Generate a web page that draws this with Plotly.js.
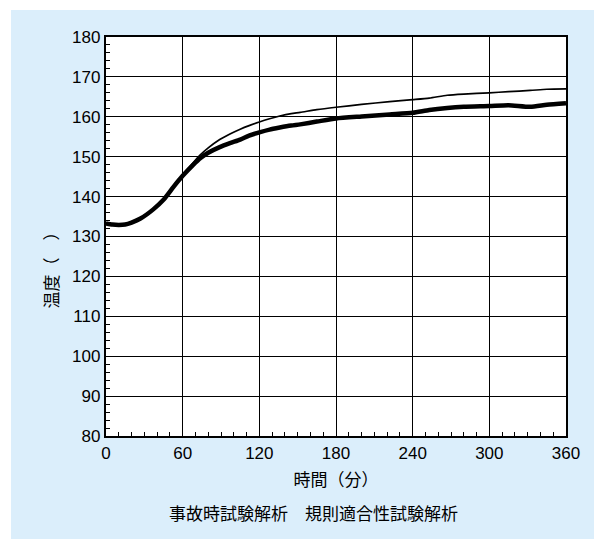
<!DOCTYPE html>
<html>
<head>
<meta charset="utf-8">
<script src="https://cdn.plot.ly/plotly-3.0.1.min.js"></script>
<style>
  html, body { margin: 0; padding: 0; background: #ffffff; }
  #wrap { position: relative; width: 594px; height: 539px; background: #ffffff; overflow: hidden; }
  #panel { position: absolute; left: 11px; top: 10px; width: 583px; height: 529px; background: #dbeefb; }
  #chart { position: absolute; left: 0; top: 0; width: 594px; height: 539px; }
</style>
</head>
<body>
<div id="wrap"><div id="panel"></div><div id="chart"></div></div>
<script>
// time (minutes)
const timeMin = [0,5,10,15,20,27,37,45,53,60,68,74,80,89,97,105,112,120,128,136,145,152,165,180,200,222,240,253,267,280,300,315,332,345,360];
// thin line (upper at end)
const thinTemp = [133.4,133.1,133.0,133.1,133.6,134.6,136.9,139.3,142.6,145.4,148.4,150.5,152.2,154.3,155.7,156.9,157.8,158.7,159.5,160.2,160.8,161.1,161.8,162.4,163.1,163.8,164.3,164.7,165.4,165.7,166.0,166.3,166.6,166.9,167.0];
// thick noisy line (lower at end)
const thickTemp = [133.3,133.0,132.9,133.0,133.5,134.5,136.8,139.2,142.5,145.2,147.9,149.7,151.0,152.4,153.4,154.3,155.3,156.1,156.8,157.3,157.8,158.1,158.8,159.6,160.1,160.6,161.0,161.7,162.2,162.5,162.7,162.9,162.5,163.0,163.4];
const xTicks = [0,60,120,180,240,300,360];
const yTicks = [80,90,100,110,120,130,140,150,160,170,180];
const xTitle = "時間（分）";
const yTitle = "温度（　）";
const caption = "事故時試験解析　規則適合性試験解析";

const FONT = "Liberation Sans, Arial, 'Noto Sans CJK JP', sans-serif";

const traces = [
  { x: timeMin, y: thickTemp, mode: "lines", line: { color: "#000", width: 4.5, shape: "spline", smoothing: 0.6 }, hoverinfo: "skip", showlegend: false },
  { x: timeMin, y: thinTemp, mode: "lines", line: { color: "#000", width: 1.7, shape: "spline", smoothing: 0.6 }, hoverinfo: "skip", showlegend: false }
];

const layout = {
  width: 594, height: 539,
  margin: { l: 106, r: 28, t: 37, b: 103 },
  paper_bgcolor: "rgba(0,0,0,0)",
  plot_bgcolor: "#ffffff",
  font: { family: FONT, color: "#000", size: 17 },
  showlegend: false,
  xaxis: {
    range: [0, 360], tickvals: xTicks, ticktext: xTicks.map(String),
    showgrid: true, gridcolor: "#000", gridwidth: 1,
    showline: true, linecolor: "#000", linewidth: 2.2, mirror: true,
    ticks: "inside", ticklen: 4, tickcolor: "#000",
    minor: { dtick: 10, ticks: "inside", ticklen: 4, tickcolor: "#000", showgrid: false },
    tickfont: { family: FONT, size: 17, color: "#000" },
    zeroline: false, fixedrange: true,
    title: { text: xTitle, font: { family: FONT, size: 17, color: "#000" }, standoff: 13 }
  },
  yaxis: {
    range: [80, 180], tickvals: yTicks, ticktext: yTicks.map(String),
    showgrid: true, gridcolor: "#000", gridwidth: 1,
    showline: true, linecolor: "#000", linewidth: 2.2, mirror: true,
    ticks: "inside", ticklen: 4, tickcolor: "#000",
    minor: { dtick: 2, ticks: "inside", ticklen: 4, tickcolor: "#000", showgrid: false },
    tickfont: { family: FONT, size: 17, color: "#000" },
    zeroline: false, fixedrange: true
  },
  annotations: [
    { text: yTitle, xref: "paper", yref: "paper", x: 0, xshift: -54, y: 0.5, yshift: -30,
      xanchor: "center", yanchor: "middle", textangle: -90, showarrow: false,
      font: { family: FONT, size: 17, color: "#000" } },
    { text: caption, xref: "paper", yref: "paper", x: 0.452, y: 0, yshift: -78,
      xanchor: "center", yanchor: "middle", showarrow: false,
      font: { family: FONT, size: 17, color: "#000" } }
  ]
};

Plotly.newPlot("chart", traces, layout, { staticPlot: true, displayModeBar: false });
</script>
</body>
</html>
